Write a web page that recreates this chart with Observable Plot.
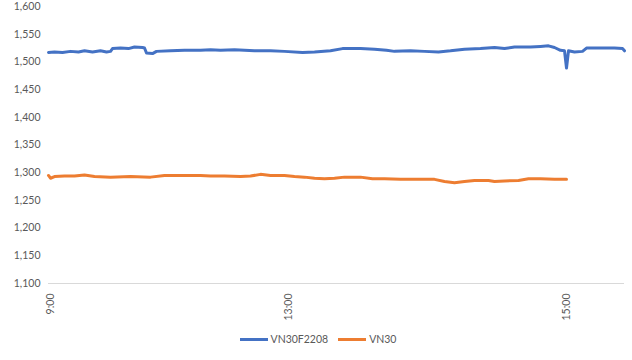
<!DOCTYPE html>
<html>
<head>
<meta charset="utf-8">
<script src="https://cdn.jsdelivr.net/npm/d3@7"></script>
<script src="https://cdn.jsdelivr.net/npm/@observablehq/plot@0.6"></script>
<style>
  body { margin: 0; background: #fff; font-family: Lato, "Open Sans", sans-serif; }
  #chart { width: 632px; }
  .legend { display: flex; justify-content: center; align-items: center; gap: 10px; font-size: 10.5px; color: #595959; height: 20px; margin-top: 3px; padding-left: 4px; }
  .legend span.sw { display: inline-block; width: 28px; height: 3px; margin-right: 3px; vertical-align: middle; }
  .legend .item { display: flex; align-items: center; }
</style>
</head>
<body>
<div id="chart"></div>
<script>
// Category positions (data point index along the session) and values
const futIdx = [0,3,7,11,15,18,22,26,29,31,32,36,40,43,47,48,49,52,54,61,68,76,81,86,93,98,103,111,118,127,133,141,147,156,163,169,173,181,188,195,201,208,216,223,228,233,241,246,250,253,256,258,259,260,263,267,269,276,283,287,288];
const futVal = [1517,1518,1517,1519,1518,1520,1518,1520,1518,1519,1524,1525,1524,1527,1526,1525,1516,1515,1519,1520,1521,1521,1522,1521,1522,1521,1520,1520,1519,1517,1518,1520,1524,1524,1523,1521,1519,1520,1519,1518,1520,1523,1524,1526,1524,1527,1527,1528,1529,1526,1521,1520,1489,1520,1518,1519,1525,1525,1525,1524,1520];
const idxIdx = [0,1,3,8,13,18,23,31,41,51,58,66,76,81,88,96,101,106,111,118,123,128,133,138,143,148,156,162,168,176,186,193,198,203,208,213,220,223,228,235,240,246,253,259];
const idxVal = [1295,1290,1293,1294,1294,1296,1293,1292,1293,1292,1295,1295,1295,1294,1294,1293,1294,1297,1295,1295,1293,1292,1290,1289,1290,1292,1292,1289,1289,1288,1288,1288,1284,1282,1284,1286,1286,1284,1285,1286,1289,1289,1288,1288];
const tickPos = [1, 120, 259];
const tickLabels = ["9:00", "13:00", "15:00"];
const yTicks = [1100,1150,1200,1250,1300,1350,1400,1450,1500,1550,1600];
const seriesNames = ["VN30F2208", "VN30"];
const colors = ["#4472C4", "#ED7D31"];

const fut = futIdx.map((x, i) => ({x, y: futVal[i], s: seriesNames[0]}));
const idx = idxIdx.map((x, i) => ({x, y: idxVal[i], s: seriesNames[1]}));

const chart = Plot.plot({
  width: 632,
  height: 326,
  marginTop: 6,
  marginBottom: 43,
  marginLeft: 48,
  marginRight: 8,
  style: {fontFamily: "Lato, 'Open Sans', sans-serif", fontSize: "10.5px", color: "#595959", background: "#fff"},
  x: {domain: [0, 288], axis: null},
  y: {domain: [1100, 1600], axis: null},
  marks: [
    Plot.ruleY([1100], {stroke: "#d9d9d9", strokeWidth: 1}),
    Plot.axisY({ticks: yTicks, tickFormat: d3.format(","), tickSize: 0, tickPadding: 8, fill: "#595959", label: null}),
    Plot.axisX({ticks: tickPos, tickFormat: (d) => tickLabels[tickPos.indexOf(d)], tickSize: 0, tickPadding: 10, tickRotate: -90, fill: "#595959", label: null}),
    Plot.line(fut, {x: "x", y: "y", stroke: colors[0], strokeWidth: 3, strokeLinejoin: "round", strokeLinecap: "round"}),
    Plot.line(idx, {x: "x", y: "y", stroke: colors[1], strokeWidth: 3, strokeLinejoin: "round", strokeLinecap: "round"})
  ]
});
document.getElementById("chart").appendChild(chart);

const legend = document.createElement("div");
legend.className = "legend";
seriesNames.forEach((n, i) => {
  const it = document.createElement("div");
  it.className = "item";
  it.innerHTML = `<span class="sw" style="background:${colors[i]}"></span><span>${n}</span>`;
  legend.appendChild(it);
});
document.getElementById("chart").appendChild(legend);
</script>
</body>
</html>
